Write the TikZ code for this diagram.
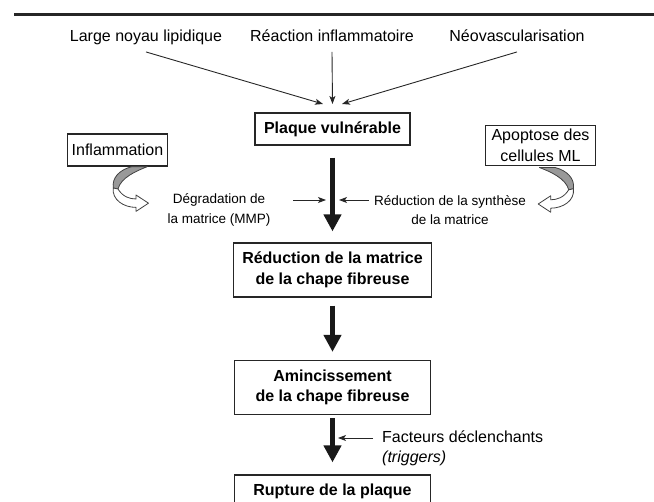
\documentclass[tikz,border=0pt]{standalone}
\usepackage{fontspec}
\setmainfont{Liberation Sans}
\usepackage{tikz}
\usetikzlibrary{arrows.meta}
\tikzstyle{source} = [text height=12pt, text depth=3.5pt, inner sep=0pt]
\tikzstyle{block} = [rectangle, draw=black!85, line width=1.2pt, font=\bfseries,
    text centered, inner xsep=9pt, minimum height=32pt]
\tikzstyle{wideblock} = [block, align=center, minimum width=196pt, minimum height=54pt]
\tikzstyle{cause} = [rectangle, draw=black!85, line width=1.1pt, align=center,
    inner xsep=4pt, inner ysep=3.5pt, minimum height=32pt]
\tikzstyle{sidenote} = [align=center, font=\fontsize{13.5}{19.5}\selectfont]
\tikzstyle{arrow} = [draw=black!85, -{Stealth[length=8pt, width=6pt, inset=2pt]}, line width=0.9pt]
\tikzstyle{bigarrow} = [draw=black!90, -{Triangle[length=17pt, width=17pt]}, line width=4.3pt]
\tikzstyle{ribbon} = [draw=black!75, line width=0.8pt, line join=round]
\tikzset{
  pics/curlarrow/.style={code={
    \filldraw [ribbon, fill=black!40] (0,0) -- (15.6,0)
      .. controls (5,4) and (-11,11) .. (-13.7,22.3) -- (-18.4,21.3)
      .. controls (-20,11) and (-12,3) .. (0,0) -- cycle;
    \filldraw [ribbon, fill=white] (-13.7,22.3)
      .. controls (-9,30) and (-2,32.3) .. (4.3,32.3) -- (4.3,28.3) -- (16.8,36.5)
      -- (4.3,44.7) -- (4.3,40.7)
      .. controls (-8,40.7) and (-20,33) .. (-18.4,21.3) -- cycle;
  }}
}
\begin{document}
\begin{tikzpicture}[x=1pt, y=-1pt]
    \fontsize{16}{20.5}\selectfont
    \clip (0,0) rectangle (654,502);
    % rule at the top
    \fill [black!85] (14,13) rectangle (654,16.5);

    % Place nodes
    \node [source] (lipid) at (146,37) {Large noyau lipidique};
    \node [source] (inflamReaction) at (332,37) {Réaction inflammatoire};
    \node [source] (neovasc) at (517,37) {Néovascularisation};
    \node [block] (plaque) at (332.5,129) {Plaque vulnérable};
    \node [cause] (inflam) at (117.5,150) {Inflammation};
    \node [cause, inner xsep=6.5pt] (apoptose) at (540.5,145.5) {Apoptose des\\cellules ML};
    \node [sidenote] (degrad) at (219,210) {Dégradation de\\la matrice (MMP)};
    \node [sidenote] (synth) at (450,210) {Réduction de la synthèse\\de la matrice};
    \node [wideblock] (reducMatrix) at (332.5,270) {Réduction de la matrice\\de la chape fibreuse};
    \node [wideblock] (thinning) at (332.5,387.5) {Amincissement\\de la chape fibreuse};
    \node [wideblock, minimum height=32pt] (rupture) at (332.5,491) {Rupture de la plaque};
    \node [anchor=west, align=left, inner sep=3.3pt] (triggers) at (378.7,448.5) {Facteurs déclenchants\\\textit{(triggers)}};

    \coordinate (tipL) at (323,104);
    \coordinate (tipM) at (332.5,104);
    \coordinate (tipR) at (342,104);
    \coordinate (degradStart) at (293,200);
    \coordinate (degradTip) at (326,200);
    \coordinate (synthTip) at (339,200);
    \coordinate (triggerStart) at (373,438);
    \coordinate (triggerTip) at (338,438);

    \path [arrow] ([yshift=-7pt]lipid.south) -- (tipL);
    \path [arrow] ([yshift=-7pt]inflamReaction.south) -- (tipM);
    \path [arrow] ([yshift=-7pt]neovasc.south) -- (tipR);
    \path [bigarrow, shorten <=12pt, shorten >=11pt] (plaque) -- (reducMatrix);
    \path [bigarrow, shorten <=8pt, shorten >=8pt] (reducMatrix) -- (thinning);
    \path [bigarrow, shorten <=3pt, shorten >=12pt] (thinning) -- (rupture);
    \path [arrow] (degradStart) -- (degradTip);
    \path [arrow] ([yshift=10pt]synth.west) -- (synthTip);
    \path [arrow] (triggerStart) -- (triggerTip);

    % curled arrows under the causes
    \pic at (131.7,166.7) {curlarrow};
    \pic [xscale=-1] at (555,167.5) {curlarrow};
\end{tikzpicture}
\end{document}
